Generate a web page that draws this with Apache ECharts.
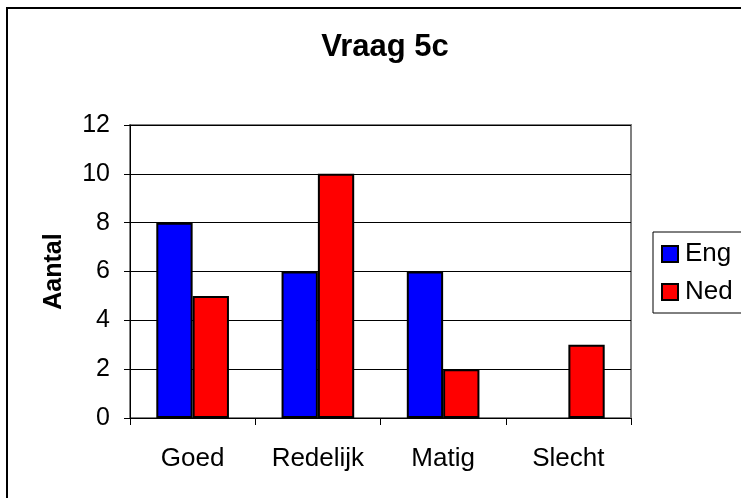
<!DOCTYPE html>
<html>
<head>
<meta charset="utf-8">
<script src="https://cdn.jsdelivr.net/npm/echarts@6/dist/echarts.min.js"></script>
<style>
  html, body { margin: 0; padding: 0; background: #fff; }
  #chart { width: 741px; height: 498px; }
</style>
</head>
<body>
<div id="chart"></div>
<script>
var categories = ['Goed', 'Redelijk', 'Matig', 'Slecht'];
var engValues = [8, 6, 6, 0];
var nedValues = [5, 10, 2, 3];

var chart = echarts.init(document.getElementById('chart'));
var font = 'Liberation Sans, Arial, sans-serif';

var barStyle = function (color) {
    return { color: color, borderColor: '#000', borderWidth: 2 };
};

// a zero bar in excel shows no outline
var toBars = function (values) {
    return values.map(function (v) {
        return v === 0 ? { value: 0, itemStyle: { borderWidth: 0 } } : v;
    });
};

chart.setOption({
    animation: false,
    backgroundColor: '#fff',
    textStyle: { fontFamily: font },
    graphic: [{
        type: 'rect',
        shape: { x: 7, y: 8, width: 760, height: 520 },
        style: { fill: 'none', stroke: '#000', lineWidth: 2 },
        silent: true
    }],
    title: {
        text: 'Vraag 5c',
        left: 380,
        textAlign: 'center',
        top: 27,
        textStyle: { fontFamily: font, fontSize: 31, fontWeight: 'bold', color: '#000' }
    },
    legend: {
        orient: 'vertical',
        left: 653,
        top: 232,
        data: ['Eng', 'Ned'],
        icon: 'rect',
        itemWidth: 16,
        itemHeight: 16,
        itemGap: 12,
        padding: [9, 30, 8, 8],
        borderColor: '#000',
        borderWidth: 1,
        borderRadius: 0,
        itemStyle: { borderColor: '#000', borderWidth: 2 },
        textStyle: { fontFamily: font, fontSize: 26, color: '#000', padding: [0, 0, 0, 2] }
    },
    grid: {
        left: 130,
        top: 125,
        width: 501,
        height: 293,
        show: true,
        borderColor: '#808080',
        borderWidth: 2,
        containLabel: false
    },
    xAxis: {
        type: 'category',
        data: categories,
        axisLine: { lineStyle: { color: '#000', width: 1 } },
        axisTick: { show: true, length: 7, lineStyle: { color: '#000' } },
        axisLabel: { fontFamily: font, fontSize: 26, color: '#000', margin: 28 }
    },
    yAxis: {
        type: 'value',
        min: 0,
        max: 12,
        interval: 2,
        name: 'Aantal',
        nameLocation: 'middle',
        nameGap: 63,
        nameRotate: 90,
        nameTextStyle: { fontFamily: font, fontSize: 25, fontWeight: 'bold', color: '#000' },
        axisLine: { show: true, lineStyle: { color: '#000', width: 1 } },
        axisTick: { show: true, inside: false, length: 6, lineStyle: { color: '#000' } },
        axisLabel: { fontFamily: font, fontSize: 25, color: '#000', margin: 20 },
        splitLine: { show: true, lineStyle: { color: '#000', width: 1 } }
    },
    series: [{
        name: 'Eng',
        type: 'bar',
        data: toBars(engValues),
        barGap: '0%',
        barCategoryGap: '42%',
        itemStyle: barStyle('#0000ff')
    }, {
        name: 'Ned',
        type: 'bar',
        data: toBars(nedValues),
        barGap: '0%',
        barCategoryGap: '42%',
        itemStyle: barStyle('#ff0000')
    }]
});
</script>
</body>
</html>
